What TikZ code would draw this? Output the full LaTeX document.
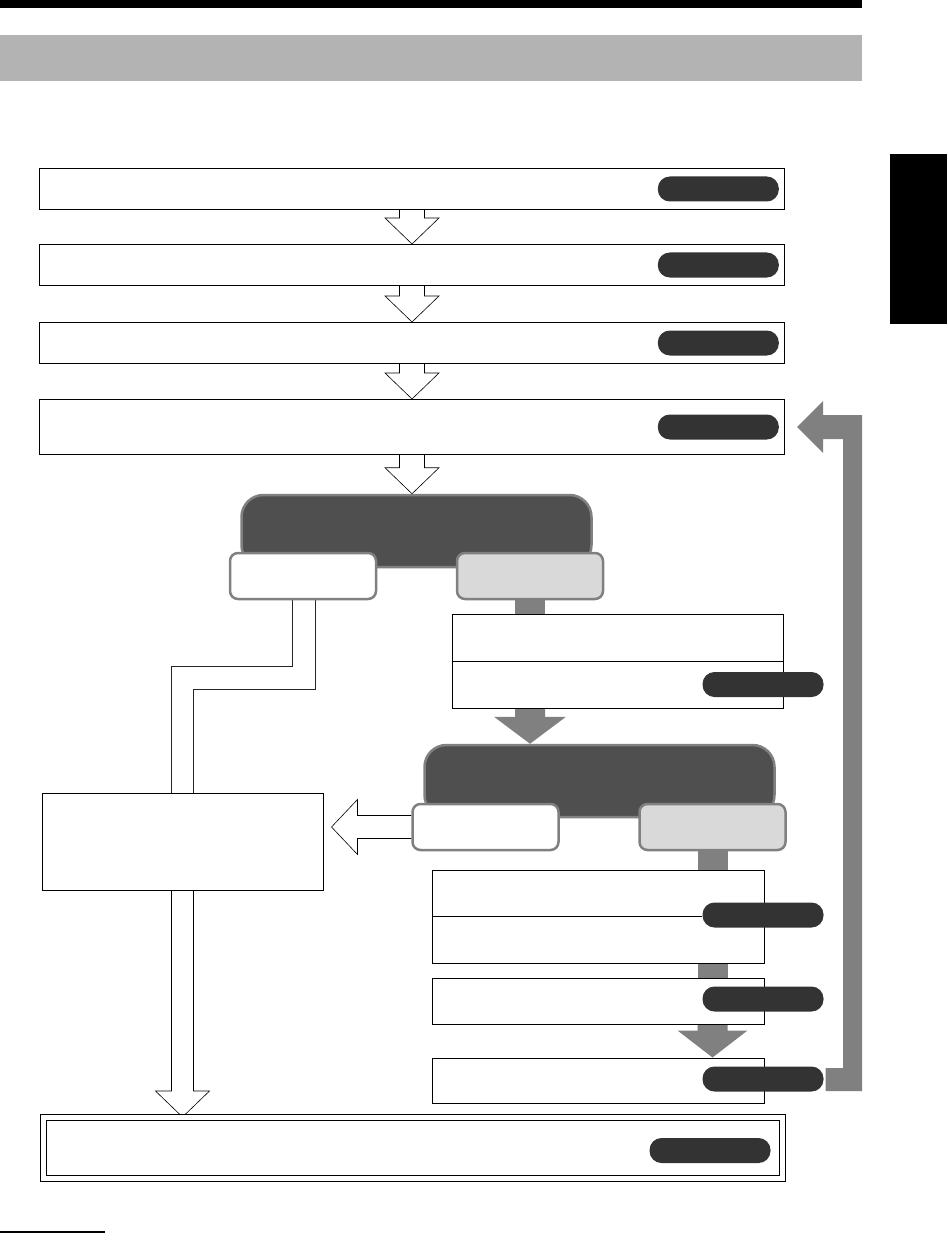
\documentclass[tikz,border=0pt]{standalone}
\usepackage{tikz}
\usetikzlibrary{calc,positioning,backgrounds}
\definecolor{bandgray}{RGB}{179,179,179}
\definecolor{decgray}{RGB}{79,79,79}
\definecolor{linegray}{RGB}{128,128,128}
\definecolor{optgray}{RGB}{217,217,217}
\definecolor{pillgray}{RGB}{51,51,51}
\tikzset{
  stepbox/.style={draw, line width=1pt, fill=white, inner sep=0pt},
  pill/.style={fill=pillgray, rounded corners=12pt, minimum width=121pt, minimum height=25pt, inner sep=0pt},
  decision/.style={draw=linegray, line width=2.5pt, fill=decgray, rounded corners=22pt,
    minimum width=350pt, minimum height=72pt, inner sep=0pt},
  option/.style={draw=linegray, line width=2.5pt, rounded corners=8pt,
    minimum width=146pt, minimum height=46pt, inner sep=0pt},
  hollow/.style={draw=black, line width=0.6pt, fill=white},
  hollowline/.style={draw=black!85, line width=0.8pt},
  link/.style={linegray, line width=30pt}
}
% hollow block arrow down, from node #2 to node #3
\newcommand{\hollowdn}[3][12.5]{%
  \filldraw[hollow] let \p1=(#2.south), \p2=(#3.north) in
    (\x1-#1pt,\y1) -- (\x1-#1pt,\y2+26pt) -- (\x1-27pt,\y2+26pt) -- (\x1,\y2)
    -- (\x1+27pt,\y2+26pt) -- (\x1+#1pt,\y2+26pt) -- (\x1+#1pt,\y1);}
% solid grey block arrow down
\newcommand{\solidarr}[3][36]{%
  \fill[linegray] let \p1=(#2), \p2=(#3) in
    (\x1-15pt,\y1) -- (\x1-15pt,\y2+27pt) -- (\x1-#1pt,\y2+27pt) -- (\x1,\y2)
    -- (\x1+#1pt,\y2+27pt) -- (\x1+15pt,\y2+27pt) -- (\x1+15pt,\y1) -- cycle;}

\begin{document}
\begin{tikzpicture}[x=1pt, y=-1pt]
  \useasboundingbox (0,0) rectangle (947,1241);
  % page furniture
  \fill (0,0) rectangle (862,8);
  \fill[bandgray] (0,35) rectangle (862,81);
  \fill (890,154) rectangle (947,324);
  \draw[line width=1.2pt] (0,1232) -- (105,1232);

  % main steps
  \node[stepbox, minimum width=745pt, minimum height=41pt] (s1) at (412,189) {};
  \node[stepbox, minimum width=745pt, minimum height=41pt] (s2) at (412,265) {};
  \node[stepbox, minimum width=745pt, minimum height=41pt] (s3) at (412,343) {};
  \node[stepbox, minimum width=745pt, minimum height=55pt] (s4) at (412,427) {};
  \foreach \n in {1,...,4} \node[pill, left=6pt of s\n.east] (p\n) {};

  % first choice
  \node[decision] (d1) at (416.5,531) {};
  \node[option, fill=white] (w1) at (303,576) {};
  \node[option, fill=optgray] (g1) at (530,576) {};
  \node[stepbox, minimum width=331pt, minimum height=94pt] (r1) at (617.5,661) {};
  \draw[line width=1pt] (r1.west) -- (r1.east);
  \node[pill] (p5) at (763,684.5) {};

  % second choice
  \node[decision] (d2) at (599.5,781) {};
  \node[option, fill=white] (w2) at (485.5,827) {};
  \node[option, fill=optgray] (g2) at (712.5,827) {};
  \node[stepbox, minimum width=281pt, minimum height=97pt] (l1) at (182.5,841.5) {};
  \node[stepbox, minimum width=332pt, minimum height=93pt] (r2) at (598,916.5) {};
  \node[pill] (p6) at (763,915) {};
  \draw[line width=1pt] (r2.west) -- (r2.west -| p6.west);
  \node[stepbox, minimum width=332pt, minimum height=46pt] (r3) at (598,1001) {};
  \node[pill] (p7) at (763,999) {};
  \node[stepbox, minimum width=332pt, minimum height=45pt] (r4) at (598,1080.5) {};
  \node[pill] (p8) at (763,1079) {};

  % last step
  \node[stepbox, double, double distance=4.5pt, minimum width=739pt, minimum height=61pt] (fin) at (413,1148) {};
  \node[pill] (p9) at (710,1150.5) {};

  \begin{scope}[on background layer]
    \foreach \a/\b in {s1/s2,s2/s3,s3/s4,s4/d1} \hollowdn{\a}{\b};
    \draw[hollowline] let \p1=(w1.south), \p2=(l1.north) in
      (\x1-11pt,\y1) |- (\x2-11pt,\y1-66pt) -- (\x2-11pt,\y2)
      (\x1+12pt,\y1) |- (\x2+11pt,\y1-89pt) -- (\x2+11pt,\y2);
    \hollowdn[11]{l1}{fin}
    \filldraw[hollow] let \p1=(w2.west), \p2=(l1.east) in
      (\x1,\y1+11.5pt) -- (\x2+34pt,\y1+11.5pt) -- (\x2+34pt,\y1+27.5pt) -- (\x2+8pt,\y1)
      -- (\x2+34pt,\y1-27.5pt) -- (\x2+34pt,\y1-11.5pt) -- (\x1,\y1-11.5pt);
    \draw[link] (g1.south) -- (g1.south |- r1.north);
    \solidarr{g1.south |- r1.south}{d2.north}
    \draw[link] (g2.south) -- (g2.south |- r2.north);
    \draw[link] (g2.south |- r2.south) -- (g2.south |- r3.north);
    \solidarr[35]{g2.south |- r3.south}{r4.north}
    % loop back
    \fill[linegray] let \p1=(p8.east), \p2=(s4.east) in
      (\x1+2pt,\y1-12pt) -- (862pt,\y1-12pt) -- (862pt,\y2+12pt) -- (\x2+38pt,\y2+12pt)
      -- (\x2+38pt,\y2+26pt) -- (\x2+12pt,\y2) -- (\x2+38pt,\y2-26pt) -- (\x2+38pt,\y2-12pt)
      -- (843pt,\y2-12pt) -- (843pt,\y1+11pt) -- (\x1+2pt,\y1+11pt) -- cycle;
  \end{scope}
\end{tikzpicture}
\end{document}
